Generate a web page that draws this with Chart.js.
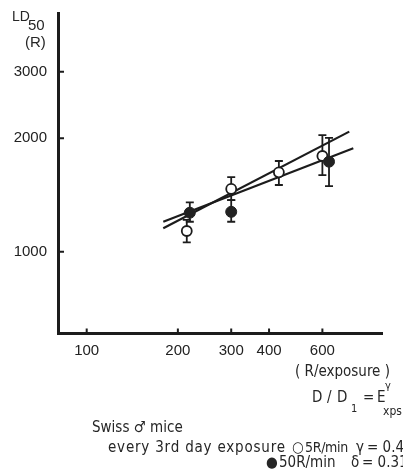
<!DOCTYPE html>
<html>
<head>
<meta charset="utf-8">
<script src="https://cdn.jsdelivr.net/npm/chart.js@4/dist/chart.umd.min.js"></script>
<style>
  html, body { margin: 0; padding: 0; background: #fff; overflow: hidden; }
  #wrap { position: relative; width: 403px; height: 474px; overflow: hidden; }
  #ld-chart { position: absolute; left: 0; top: 0; }
  .t {
    position: absolute;
    white-space: nowrap;
    font-family: 'DejaVu Sans Condensed', 'DejaVu Sans', sans-serif;
    font-size: 15px;
    line-height: 15px;
    color: #262626;
  }
  .n { font-family: 'Liberation Sans', sans-serif; }
</style>
</head>
<body>
<div id="wrap">
  <canvas id="ld-chart" width="403" height="474"></canvas>

  <!-- y axis title -->
  <div class="t n" style="left:12px; top:9px; font-size:14px; line-height:14px;">LD</div>
  <div class="t n" style="left:28px; top:17px; font-size:15px; line-height:15px;">50</div>
  <div class="t n" style="left:25px; top:34px; font-size:15px; line-height:15px;">(R)</div>

  <!-- x axis title and formula -->
  <div class="t" style="left:295px; top:364px;">( R/exposure )</div>
  <div class="t" style="left:312px; top:390px;">D</div>
  <div class="t" style="left:327px; top:390px;">/</div>
  <div class="t" style="left:337px; top:390px;">D</div>
  <div class="t" style="left:351px; top:403px; font-size:11px; line-height:11px;">1</div>
  <div class="t" style="left:363px; top:390px;">=</div>
  <div class="t" style="left:377px; top:390px;">E</div>
  <div class="t" style="left:385px; top:380px; font-size:11px; line-height:11px;">γ</div>
  <div class="t" style="left:383px; top:405px; font-size:12px; line-height:12px;">xps</div>

  <!-- legend -->
  <div class="t" style="left:92px; top:420px;">Swiss ♂ mice</div>
  <div class="t" style="left:108px; top:440px; letter-spacing:0.8px;">every 3rd day exposure</div>
  <div class="t" style="left:292px; top:440px;">○</div>
  <div class="t" style="left:305px; top:440px; font-size:14px; letter-spacing:-0.3px;">5R/min</div>
  <div class="t" style="left:356px; top:440px;">γ</div>
  <div class="t" style="left:367px; top:440px;">= 0.40</div>
  <div class="t" style="left:266px; top:455px;">●</div>
  <div class="t" style="left:279px; top:455px;">50R/min</div>
  <div class="t" style="left:351px; top:455px;">δ</div>
  <div class="t" style="left:362px; top:455px;">= 0.31</div>
</div>

<script>
const xTicks = [100, 200, 300, 400, 600];
const yTicks = [1000, 2000, 3000];

// 5 R/min (open circles)
const openDose = [214, 300, 431, 600];
const openLD50 = [1135, 1467, 1624, 1794];
const openLow = [1059, 1371, 1503, 1597];
const openHigh = [1215, 1578, 1740, 2039];

// 50 R/min (filled circles)
const filledDose = [219, 300, 631];
const filledLD50 = [1269, 1276, 1733];
const filledLow = [1201, 1201, 1493];
const filledHigh = [1352, 1371, 2003];

// fitted lines, end points
const openFitDose = [179, 736];
const openFitLD50 = [1154, 2082];
const filledFitDose = [179, 759];
const filledFitLD50 = [1201, 1880];

const ink = '#1c1c1c';
const tickFont = { family: "'Liberation Sans', sans-serif", size: 15 };

const toPoints = (xs, ys) => xs.map((x, i) => ({ x, y: ys[i] }));

const errorBars = {
  id: 'errorBars',
  beforeDatasetsDraw(chart) {
    const { ctx, scales: { x, y } } = chart;
    ctx.save();
    ctx.strokeStyle = ink;
    ctx.lineWidth = 1.8;
    [[openDose, openLow, openHigh], [filledDose, filledLow, filledHigh]].forEach(([xs, lo, hi]) => {
      xs.forEach((d, i) => {
        const px = x.getPixelForValue(d);
        const top = y.getPixelForValue(hi[i]);
        const bot = y.getPixelForValue(lo[i]);
        ctx.beginPath();
        ctx.moveTo(px, top);
        ctx.lineTo(px, bot);
        ctx.moveTo(px - 4, top);
        ctx.lineTo(px + 4, top);
        ctx.moveTo(px - 4, bot);
        ctx.lineTo(px + 4, bot);
        ctx.stroke();
      });
    });
    ctx.restore();
  },
};

// tick marks point into the plot, as in the original
const innerTicks = {
  id: 'innerTicks',
  afterDraw(chart) {
    const { ctx, chartArea, scales: { x, y } } = chart;
    ctx.save();
    ctx.strokeStyle = ink;
    ctx.lineWidth = 2;
    ctx.beginPath();
    x.ticks.forEach((t) => {
      const px = x.getPixelForValue(t.value);
      ctx.moveTo(px, chartArea.bottom);
      ctx.lineTo(px, chartArea.bottom - 5);
    });
    y.ticks.forEach((t) => {
      const py = y.getPixelForValue(t.value);
      ctx.moveTo(chartArea.left, py);
      ctx.lineTo(chartArea.left + 6, py);
    });
    ctx.stroke();
    ctx.restore();
  },
};

new Chart(document.getElementById('ld-chart'), {
  type: 'scatter',
  data: {
    datasets: [
      {
        label: '5R/min fit',
        data: toPoints(openFitDose, openFitLD50),
        showLine: true,
        borderColor: ink,
        borderWidth: 2.2,
        pointRadius: 0,
        order: 5,
      },
      {
        label: '50R/min fit',
        data: toPoints(filledFitDose, filledFitLD50),
        showLine: true,
        borderColor: ink,
        borderWidth: 2.2,
        pointRadius: 0,
        order: 4,
      },
      {
        label: '5R/min',
        data: toPoints(openDose, openLD50),
        pointRadius: 5,
        pointBackgroundColor: '#fff',
        pointBorderColor: ink,
        pointBorderWidth: 1.8,
        order: 2,
      },
      {
        label: '50R/min',
        data: toPoints(filledDose, filledLD50),
        pointRadius: 5.5,
        pointBackgroundColor: '#222',
        pointBorderColor: '#222',
        pointBorderWidth: 1,
        order: 1,
      },
    ],
  },
  options: {
    responsive: false,
    animation: false,
    devicePixelRatio: 1,
    layout: { padding: { top: 13, right: 21, left: 0, bottom: 0 } },
    plugins: {
      legend: { display: false },
      tooltip: { enabled: false },
    },
    scales: {
      x: {
        type: 'logarithmic',
        bounds: 'data',
        min: 80.4,
        max: 944,
        afterBuildTicks: (s) => { s.ticks = xTicks.map((v) => ({ value: v })); },
        afterFit: (s) => {
          s.height = 140.5;
          s.paddingLeft = 0;
          s.paddingRight = 0;
        },
        ticks: {
          callback: (v) => String(v),
          font: tickFont,
          color: '#222',
          padding: 8,
          autoSkip: false,
          maxRotation: 0,
        },
        grid: { drawOnChartArea: false, drawTicks: false },
        border: { color: ink, width: 3 },
      },
      y: {
        type: 'logarithmic',
        bounds: 'data',
        min: 607,
        max: 4296,
        afterBuildTicks: (s) => { s.ticks = yTicks.map((v) => ({ value: v })); },
        afterFit: (s) => {
          s.width = 58;
          s.paddingTop = 0;
          s.paddingBottom = 0;
        },
        ticks: {
          callback: (v) => String(v),
          font: tickFont,
          color: '#222',
          padding: 11,
          autoSkip: false,
        },
        grid: { drawOnChartArea: false, drawTicks: false },
        border: { color: ink, width: 3 },
      },
    },
  },
  plugins: [errorBars, innerTicks],
});
</script>
</body>
</html>
